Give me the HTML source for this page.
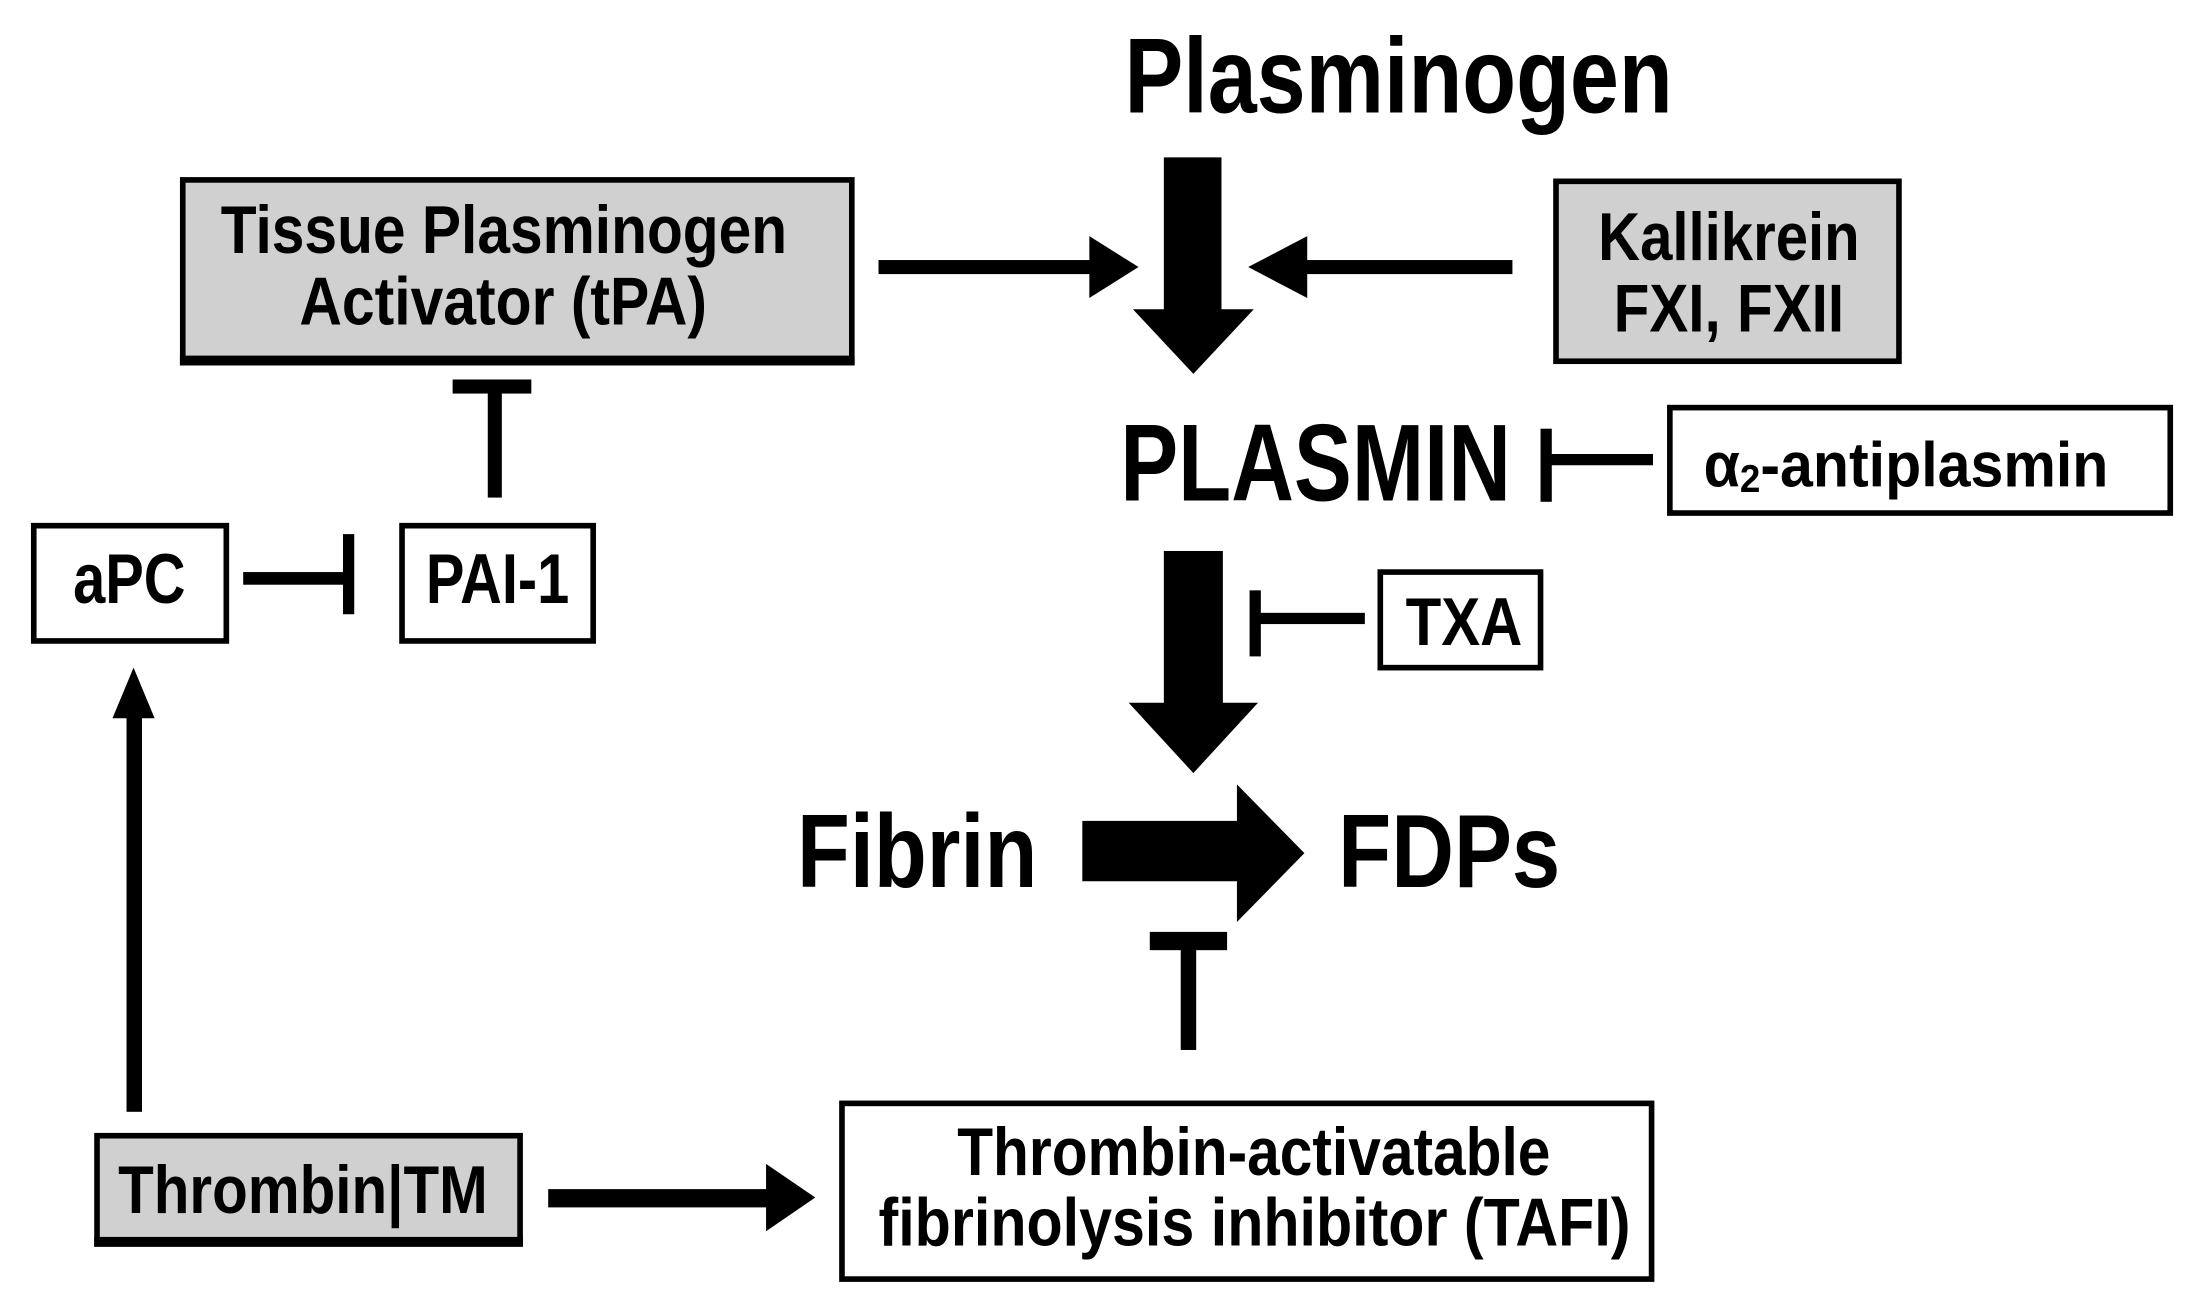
<!DOCTYPE html>
<html><head><meta charset="utf-8"><style>html,body{margin:0;padding:0;background:#fff}svg{display:block}</style></head>
<body>
<svg width="2204" height="1310" viewBox="0 0 1568 932" xmlns="http://www.w3.org/2000/svg" font-family="Liberation Sans, Arial, sans-serif" font-weight="bold">
<rect width="1568" height="932" fill="#fff"/>
<text x="800" y="80" font-size="76" textLength="390" lengthAdjust="spacingAndGlyphs">Plasminogen</text>
<polygon points="828,112 869,112 869,220 892,220 849,266 806,220 828,220" fill="#000"/>
<rect x="130" y="128" width="476" height="130" fill="#d0d0d0" stroke="#000" stroke-width="4"/>
<rect x="128" y="253" width="480" height="7" fill="#000"/>
<text x="157" y="180" font-size="48" textLength="403" lengthAdjust="spacingAndGlyphs">Tissue Plasminogen</text>
<text x="213" y="231" font-size="48" textLength="290" lengthAdjust="spacingAndGlyphs">Activator (tPA)</text>
<rect x="625" y="185" width="152" height="10" fill="#000"/>
<polygon points="775,168 810,190 775,212" fill="#000"/>
<rect x="928" y="185" width="148" height="10" fill="#000"/>
<polygon points="930,168 888,190 930,212" fill="#000"/>
<rect x="1107" y="129" width="244" height="128" fill="#d0d0d0" stroke="#000" stroke-width="4"/>
<text x="1137" y="185" font-size="48" textLength="186" lengthAdjust="spacingAndGlyphs">Kallikrein</text>
<text x="1148" y="236" font-size="48" textLength="164" lengthAdjust="spacingAndGlyphs">FXI, FXII</text>
<text x="797" y="356" font-size="78" textLength="278" lengthAdjust="spacingAndGlyphs">PLASMIN</text>
<rect x="1096" y="305" width="8" height="52" fill="#000"/>
<rect x="1100" y="323" width="76" height="8" fill="#000"/>
<rect x="1188" y="290" width="356" height="75" fill="#fff" stroke="#000" stroke-width="4"/>
<text x="1212" y="346" font-size="45" textLength="288" lengthAdjust="spacingAndGlyphs">α<tspan font-size="28" dy="4">2</tspan><tspan dy="-4">-antiplasmin</tspan></text>
<polygon points="828,392 870,392 870,500 895,500 849,550 803,500 828,500" fill="#000"/>
<rect x="889" y="420" width="8" height="47" fill="#000"/>
<rect x="893" y="436" width="78" height="8" fill="#000"/>
<rect x="982" y="407" width="114" height="68" fill="#fff" stroke="#000" stroke-width="4"/>
<text x="1000" y="459" font-size="48" textLength="83" lengthAdjust="spacingAndGlyphs">TXA</text>
<text x="567" y="631" font-size="74" textLength="171" lengthAdjust="spacingAndGlyphs">Fibrin</text>
<polygon points="770,584 880,584 880,558 928,607 880,656 880,627 770,627" fill="#000"/>
<text x="952" y="631" font-size="74" textLength="158" lengthAdjust="spacingAndGlyphs">FDPs</text>
<rect x="818" y="663" width="55" height="13" fill="#000"/>
<rect x="840" y="670" width="11" height="77" fill="#000"/>
<rect x="599" y="785" width="576" height="125" fill="#fff" stroke="#000" stroke-width="4"/>
<text x="681" y="836" font-size="48" textLength="422" lengthAdjust="spacingAndGlyphs">Thrombin-activatable</text>
<text x="625" y="886" font-size="48" textLength="535" lengthAdjust="spacingAndGlyphs">fibrinolysis inhibitor (TAFI)</text>
<rect x="69" y="808" width="301" height="77" fill="#d0d0d0" stroke="#000" stroke-width="4"/>
<rect x="67" y="880" width="305" height="7" fill="#000"/>
<text x="84" y="863" font-size="48" textLength="263" lengthAdjust="spacingAndGlyphs">Thrombin|TM</text>
<rect x="390" y="846" width="157" height="13" fill="#000"/>
<polygon points="545,828 580,852 545,876" fill="#000"/>
<rect x="90" y="505" width="11" height="286" fill="#000"/>
<polygon points="80,511 95,475 110,511" fill="#000"/>
<rect x="24" y="374" width="137" height="82" fill="#fff" stroke="#000" stroke-width="4"/>
<text x="52" y="429" font-size="50" textLength="80" lengthAdjust="spacingAndGlyphs">aPC</text>
<rect x="173" y="407" width="72" height="9" fill="#000"/>
<rect x="244" y="380" width="8" height="57" fill="#000"/>
<rect x="286" y="374" width="136" height="82" fill="#fff" stroke="#000" stroke-width="4"/>
<text x="303" y="429" font-size="50" textLength="102" lengthAdjust="spacingAndGlyphs">PAI-1</text>
<rect x="322" y="270" width="56" height="10" fill="#000"/>
<rect x="347" y="275" width="10" height="79" fill="#000"/>
</svg>
</body></html>
